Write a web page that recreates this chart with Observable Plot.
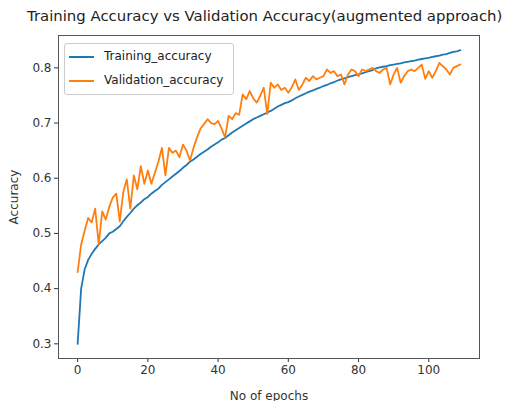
<!DOCTYPE html>
<html>
<head>
<meta charset="utf-8">
<script src="https://cdn.jsdelivr.net/npm/d3@7"></script>
<script src="https://cdn.jsdelivr.net/npm/@observablehq/plot@0.6"></script>
<style>
  body { margin: 0; background: #fff; font-family: "DejaVu Sans", sans-serif; }
  #wrap { position: relative; width: 510px; height: 401px; overflow: hidden; }
  #title { position: absolute; left: 27px; top: 7px; font-size: 14.9px; color: #222; white-space: nowrap; }
  #legend { position: absolute; left: 64px; top: 43px; width: 168px; height: 50px;
            border: 1px solid #ccc; border-radius: 3px; background: rgba(255,255,255,0.85);
            font-size: 12px; color: #222; }
  .item { position: absolute; left: 4px; height: 14px; line-height: 14px; white-space: nowrap; }
  .sw { display: inline-block; width: 25px; height: 2px; vertical-align: middle; margin-right: 10px; }
</style>
</head>
<body>
<div id="wrap">
  <div id="chart"></div>
  <div id="title">Training Accuracy vs Validation Accuracy(augmented approach)</div>
  <div id="legend"></div>
</div>
<script>
const seriesNames = ["Training_accuracy", "Validation_accuracy"];
const seriesColors = ["#1f77b4", "#ff7f0e"];
const xTicks = [0, 20, 40, 60, 80, 100];
const yTicks = [0.3, 0.4, 0.5, 0.6, 0.7, 0.8];

const trainingAccuracy = [
  0.300, 0.400, 0.435, 0.452, 0.463, 0.472, 0.480, 0.486, 0.492, 0.500,
  0.503, 0.508, 0.513, 0.522, 0.530, 0.537, 0.545, 0.551, 0.556, 0.562,
  0.566, 0.572, 0.577, 0.581, 0.588, 0.593, 0.598, 0.603, 0.608, 0.613,
  0.619, 0.624, 0.630, 0.634, 0.639, 0.644, 0.648, 0.652, 0.657, 0.661,
  0.665, 0.670, 0.673, 0.678, 0.683, 0.687, 0.691, 0.695, 0.699, 0.703,
  0.707, 0.710, 0.713, 0.716, 0.719, 0.722, 0.726, 0.730, 0.733, 0.736,
  0.738, 0.741, 0.745, 0.748, 0.751, 0.754, 0.757, 0.759, 0.762, 0.764,
  0.767, 0.769, 0.772, 0.774, 0.777, 0.779, 0.781, 0.783, 0.785, 0.787,
  0.788, 0.790, 0.792, 0.794, 0.796, 0.799, 0.801, 0.802, 0.803, 0.805,
  0.806, 0.807, 0.808, 0.810, 0.811, 0.812, 0.813, 0.815, 0.816, 0.817,
  0.818, 0.820, 0.821, 0.822, 0.824, 0.825, 0.827, 0.829, 0.830, 0.832
];

const validationAccuracy = [
  0.430, 0.480, 0.505, 0.528, 0.520, 0.545, 0.480, 0.540, 0.525, 0.548,
  0.565, 0.572, 0.522, 0.575, 0.598, 0.545, 0.605, 0.580, 0.622, 0.590,
  0.614, 0.590, 0.610, 0.630, 0.655, 0.605, 0.655, 0.646, 0.650, 0.638,
  0.661, 0.650, 0.632, 0.655, 0.674, 0.690, 0.698, 0.707, 0.700, 0.698,
  0.704, 0.690, 0.674, 0.713, 0.707, 0.718, 0.715, 0.752, 0.743, 0.758,
  0.745, 0.737, 0.749, 0.764, 0.716, 0.773, 0.764, 0.770, 0.760, 0.764,
  0.755, 0.765, 0.779, 0.760, 0.770, 0.782, 0.776, 0.785, 0.779, 0.782,
  0.785, 0.797, 0.791, 0.794, 0.785, 0.788, 0.770, 0.788, 0.797, 0.794,
  0.785, 0.797, 0.794, 0.797, 0.800, 0.794, 0.791, 0.797, 0.800, 0.770,
  0.788, 0.800, 0.773, 0.785, 0.794, 0.797, 0.794, 0.800, 0.806, 0.780,
  0.794, 0.782, 0.794, 0.809, 0.803, 0.797, 0.788, 0.800, 0.803, 0.806
];

const rows = [];
[trainingAccuracy, validationAccuracy].forEach((arr, s) => {
  arr.forEach((v, i) => rows.push({epoch: i, acc: v, series: seriesNames[s]}));
});

const n = trainingAccuracy.length - 1;
const xPad = n * 0.05;
const all = trainingAccuracy.concat(validationAccuracy);
const yMin = d3.min(all), yMax = d3.max(all), yPad = (yMax - yMin) * 0.05;

const chart = Plot.plot({
  width: 510,
  height: 401,
  marginTop: 35,
  marginBottom: 43,
  marginLeft: 58,
  marginRight: 31,
  style: {fontFamily: "DejaVu Sans, sans-serif", fontSize: "12px", color: "#333", background: "#fff"},
  x: {domain: [-xPad, n + xPad], ticks: xTicks, tickSize: 4, tickPadding: 3,
      label: "No of epochs", labelAnchor: "center", labelArrow: "none", labelOffset: 41},
  y: {domain: [yMin - yPad, yMax + yPad], ticks: yTicks, tickSize: 4, tickPadding: 3,
      tickFormat: d3.format(".1f"),
      label: "Accuracy", labelAnchor: "center", labelArrow: "none", labelOffset: 49},
  color: {domain: seriesNames, range: seriesColors},
  marks: [
    Plot.line(rows, {x: "epoch", y: "acc", z: "series", stroke: "series", strokeWidth: 1.8}),
    Plot.frame({stroke: "#555", strokeWidth: 1})
  ]
});
document.getElementById("chart").appendChild(chart);

const legend = document.getElementById("legend");
seriesNames.forEach((name, i) => {
  const d = document.createElement("div");
  d.className = "item";
  d.style.top = (5 + i * 24) + "px";
  const sw = document.createElement("span");
  sw.className = "sw";
  sw.style.background = seriesColors[i];
  d.appendChild(sw);
  d.appendChild(document.createTextNode(name));
  legend.appendChild(d);
});
</script>
</body>
</html>
